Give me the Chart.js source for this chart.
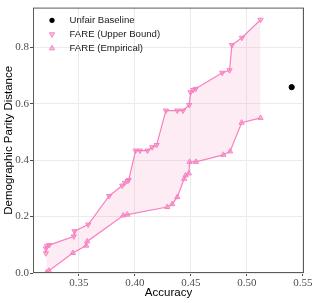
<!DOCTYPE html>
<html>
<head>
<meta charset="utf-8">
<script src="https://cdn.jsdelivr.net/npm/chart.js@4/dist/chart.umd.min.js"></script>
<style>
  body { margin: 0; background: #fff; }
</style>
</head>
<body>
<canvas id="fare-chart" width="316" height="303"></canvas>
<script>
// values
const baselineAcc = [0.540];
const baselineDpd = [0.659];

const upperAcc = [0.3205, 0.3205, 0.3215, 0.3235, 0.3455, 0.3460, 0.3583, 0.3770, 0.3887, 0.3910,
  0.3935, 0.3945, 0.4006, 0.4045, 0.4113, 0.4155, 0.4194, 0.4277, 0.4378, 0.4430,
  0.4485, 0.4497, 0.4520, 0.4542, 0.4780, 0.4845, 0.4866, 0.4955, 0.5122];
const upperDpd = [0.070, 0.087, 0.095, 0.099, 0.130, 0.148, 0.172, 0.273, 0.310, 0.320,
  0.326, 0.330, 0.434, 0.434, 0.434, 0.446, 0.454, 0.576, 0.576, 0.576,
  0.596, 0.641, 0.649, 0.653, 0.710, 0.719, 0.808, 0.834, 0.898];

const empAcc = [0.3211, 0.3232, 0.3446, 0.3565, 0.3574, 0.3896, 0.3932, 0.4289, 0.4333, 0.4378,
  0.4440, 0.4453, 0.4482, 0.4488, 0.4545, 0.4790, 0.4850, 0.4953, 0.5122];
const empDpd = [0.002, 0.008, 0.071, 0.097, 0.112, 0.204, 0.207, 0.234, 0.244, 0.269,
  0.334, 0.346, 0.353, 0.394, 0.394, 0.419, 0.431, 0.533, 0.550];

const xTickVals = [0.35, 0.40, 0.45, 0.50, 0.55];
const yTickVals = [0.0, 0.2, 0.4, 0.6, 0.8];
const seriesLabels = ["Unfair Baseline", "FARE (Upper Bound)", "FARE (Empirical)"];

const PINK = "#f781bf";
const PINK_FILL = "rgba(247, 129, 191, 0.15)";
const PINK_MARK = "rgba(247, 129, 191, 0.45)";
const TICK_FONT = { family: "'Liberation Serif', serif", size: 11 };
const TITLE_FONT = { family: "'Liberation Sans', Arial, sans-serif", size: 11.5 };

const toPoints = (xs, ys) => xs.map((x, i) => ({ x: x, y: ys[i] }));

const drawTri = (ctx, x, y, r, down) => {
  let rad = down ? Math.PI : 0;
  ctx.beginPath();
  for (let k = 0; k < 3; k++) {
    const px = x + Math.sin(rad) * r;
    const py = y - Math.cos(rad) * r;
    if (k === 0) ctx.moveTo(px, py);
    else ctx.lineTo(px, py);
    rad += (2 * Math.PI) / 3;
  }
  ctx.closePath();
  ctx.fill();
  ctx.stroke();
};

// box round the panel, like the ggplot theme
const panelBorder = {
  id: "panelBorder",
  afterDraw(chart) {
    const { ctx, chartArea } = chart;
    ctx.save();
    ctx.strokeStyle = "#5a5a5a";
    ctx.lineWidth = 1;
    ctx.strokeRect(chartArea.left + 0.5, chartArea.top + 0.5,
      chartArea.right - chartArea.left - 1, chartArea.bottom - chartArea.top - 1);
    ctx.restore();
  },
};

// legend sits inside the panel, top left
const insideLegend = {
  id: "insideLegend",
  afterDraw(chart) {
    const { ctx, chartArea } = chart;
    ctx.save();
    ctx.font = "9.6px 'Liberation Sans', Arial, sans-serif";
    ctx.textBaseline = "middle";
    chart.data.datasets.forEach((ds, i) => {
      const y = chartArea.top + 12.7 + i * 14;
      const mx = chartArea.left + 19;
      ctx.lineWidth = 1;
      if (i === 0) {
        ctx.fillStyle = "#000";
        ctx.beginPath();
        ctx.arc(mx, y, 2.6, 0, Math.PI * 2);
        ctx.fill();
      } else {
        ctx.fillStyle = PINK_MARK;
        ctx.strokeStyle = PINK;
        drawTri(ctx, mx, y, 3, i === 1);
      }
      ctx.fillStyle = "#1a1a1a";
      ctx.fillText(ds.label, chartArea.left + 36.5, y);
    });
    ctx.restore();
  },
};

const chartEl = document.getElementById("fare-chart");

let fareChart = new Chart(chartEl, {
  type: "scatter",
  data: {
    datasets: [
      {
        label: seriesLabels[0],
        data: toPoints(baselineAcc, baselineDpd),
        pointStyle: "circle",
        pointRadius: 2.6,
        pointBackgroundColor: "#000",
        pointBorderColor: "#000",
        showLine: false,
      },
      {
        label: seriesLabels[1],
        data: toPoints(upperAcc, upperDpd),
        showLine: true,
        borderColor: PINK,
        borderWidth: 1.2,
        backgroundColor: PINK_FILL,
        fill: "+1",
        pointStyle: "triangle",
        pointRotation: 180,
        pointRadius: 3,
        pointBorderWidth: 1,
        pointBackgroundColor: PINK_MARK,
        pointBorderColor: PINK,
      },
      {
        label: seriesLabels[2],
        data: toPoints(empAcc, empDpd),
        showLine: true,
        borderColor: PINK,
        borderWidth: 1.2,
        backgroundColor: PINK_FILL,
        fill: false,
        pointStyle: "triangle",
        pointRadius: 3,
        pointBorderWidth: 1,
        pointBackgroundColor: PINK_MARK,
        pointBorderColor: PINK,
      },
    ],
  },
  options: {
    responsive: false,
    animation: false,
    layout: { padding: { top: 3, right: 12, left: 0, bottom: 0 } },
    plugins: {
      legend: { display: false },
      tooltip: { enabled: false },
    },
    scales: {
      x: {
        type: "linear",
        min: 0.309,
        max: 0.551,
        afterBuildTicks: (scale) => {
          scale.ticks = xTickVals.map((v) => ({ value: v }));
        },
        afterFit: (scale) => {
          scale.height = 30;
        },
        ticks: {
          font: TICK_FONT,
          color: "#4d4d4d",
          padding: 1,
          maxRotation: 0,
          autoSkip: false,
          callback: (v) => v.toFixed(2),
        },
        grid: { color: "#ebebeb", tickLength: 3, tickColor: "#4d4d4d" },
        border: { display: false },
        title: {
          display: true,
          text: "Accuracy",
          font: TITLE_FONT,
          color: "#000",
          padding: { top: 0, bottom: 3 },
        },
      },
      y: {
        type: "linear",
        min: 0,
        max: 0.941,
        afterBuildTicks: (scale) => {
          scale.ticks = yTickVals.map((v) => ({ value: v }));
        },
        afterFit: (scale) => {
          scale.width = 33;
        },
        ticks: {
          font: TICK_FONT,
          color: "#4d4d4d",
          padding: 1,
          autoSkip: false,
          callback: (v) => v.toFixed(1),
        },
        grid: { color: "#ebebeb", tickLength: 3, tickColor: "#4d4d4d" },
        border: { display: false },
        title: {
          display: true,
          text: "Demographic Parity Distance",
          font: TITLE_FONT,
          color: "#000",
          padding: { top: 1.5, bottom: 0 },
        },
      },
    },
  },
  plugins: [panelBorder, insideLegend],
});
</script>
</body>
</html>
